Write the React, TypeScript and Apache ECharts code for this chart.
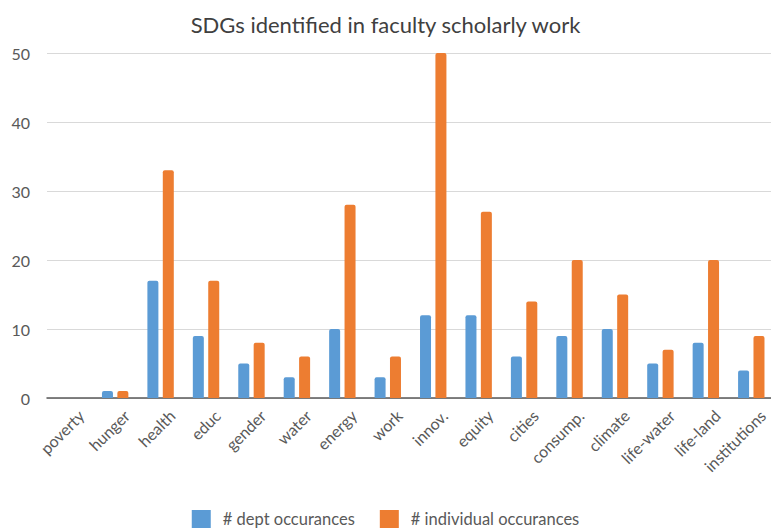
import React, { useEffect, useRef } from "react";
import * as echarts from "echarts";

const categories = ["poverty", "hunger", "health", "educ", "gender", "water", "energy", "work", "innov.", "equity", "cities", "consump.", "climate", "life-water", "life-land", "institutions"];
const deptValues = [0, 1, 17, 9, 5, 3, 10, 3, 12, 12, 6, 9, 10, 5, 8, 4];
const individualValues = [0, 1, 33, 17, 8, 6, 28, 6, 50, 27, 14, 20, 15, 7, 20, 9];
const yTicks = { min: 0, max: 50, interval: 10 };

const FONT = "Lato, 'Open Sans', sans-serif";

export default function App() {
  const ref = useRef<HTMLDivElement>(null);
  useEffect(() => {
    const chart = echarts.init(ref.current!, null, { renderer: "svg" });
    chart.setOption({
      animation: false,
      textStyle: { fontFamily: FONT },
      title: {
        text: "SDGs identified in faculty scholarly work",
        left: "center",
        top: 8,
        textStyle: { fontSize: 22, fontWeight: "normal", color: "#404040", fontFamily: FONT },
      },
      legend: {
        top: 505,
        left: "center",
        padding: 5,
        itemWidth: 19,
        itemHeight: 18,
        itemGap: 25,
        icon: "rect",
        textStyle: { fontSize: 16.5, color: "#595959", fontFamily: FONT, padding: [0, 0, 0, 7] },
        data: ["# dept occurances", "# individual occurances"],
      },
      grid: { left: 47, top: 53, width: 727, bottom: 131, containLabel: false, outerBoundsMode: "none" },
      xAxis: {
        type: "category",
        data: categories,
        axisTick: { show: false },
        axisLine: { lineStyle: { color: "#595959", width: 1.5 } },
        axisLabel: {
          rotate: 45,
          fontSize: 16,
          color: "#595959",
          margin: 26,
          interval: 0,
          fontFamily: FONT,
          hideOverlap: false,
          padding: [0, -16, 0, 0],
        },
      },
      yAxis: {
        type: "value",
        min: yTicks.min,
        max: yTicks.max,
        interval: yTicks.interval,
        axisLine: { show: false },
        axisTick: { show: false },
        splitLine: { lineStyle: { color: "#d9d9d9", width: 1 } },
        axisLabel: { fontSize: 16, color: "#595959", margin: 17, fontFamily: FONT },
      },
      series: [
        {
          name: "# dept occurances",
          type: "bar",
          data: deptValues,
          barWidth: 11,
          barGap: "40%",
          itemStyle: { color: "#5B9BD5", borderRadius: [2, 2, 0, 0] },
        },
        {
          name: "# individual occurances",
          type: "bar",
          data: individualValues,
          barWidth: 11,
          barGap: "40%",
          itemStyle: { color: "#ED7D31", borderRadius: [2, 2, 0, 0] },
        },
      ],
    });
    return () => chart.dispose();
  }, []);
  return <div ref={ref} style={{ width: 771, height: 529, position: "absolute", left: 0, top: 0, background: "#fff" }} />;
}
